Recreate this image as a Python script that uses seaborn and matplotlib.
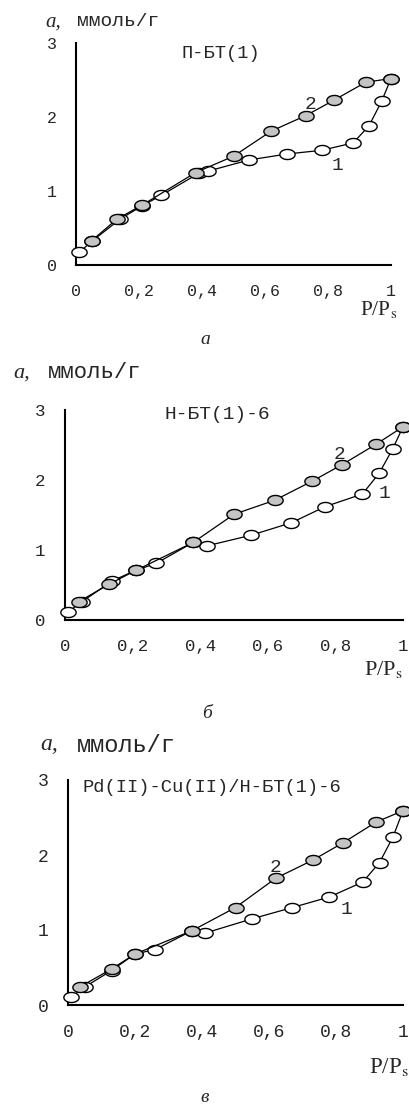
import numpy as np
import matplotlib
matplotlib.use("Agg")
import matplotlib.pyplot as plt
from matplotlib.path import Path
import seaborn as sns

# --- data ---
# panel a: П-БТ(1)
a_ads_x = [0.01, 0.05, 0.14, 0.21, 0.27, 0.39, 0.42, 0.55, 0.67, 0.78, 0.88, 0.93, 0.97, 1.00]
a_ads_y = [0.17, 0.32, 0.62, 0.80, 0.94, 1.24, 1.27, 1.42, 1.50, 1.55, 1.65, 1.88, 2.21, 2.52]
a_des_x = [1.00, 0.92, 0.82, 0.73, 0.62, 0.50, 0.38, 0.21, 0.13, 0.05]
a_des_y = [2.52, 2.47, 2.23, 2.02, 1.81, 1.47, 1.25, 0.81, 0.62, 0.33]

# panel б: Н-БТ(1)-6
b_ads_x = [0.01, 0.05, 0.14, 0.21, 0.27, 0.38, 0.42, 0.55, 0.67, 0.77, 0.88, 0.93, 0.97, 1.00]
b_ads_y = [0.12, 0.26, 0.56, 0.71, 0.81, 1.11, 1.06, 1.21, 1.39, 1.62, 1.80, 2.10, 2.45, 2.76]
b_des_x = [1.00, 0.92, 0.82, 0.73, 0.62, 0.50, 0.38, 0.21, 0.13, 0.04]
b_des_y = [2.76, 2.51, 2.22, 1.98, 1.71, 1.51, 1.11, 0.71, 0.51, 0.26]

# panel в: Pd(II)-Cu(II)/Н-БТ(1)-6
c_ads_x = [0.01, 0.05, 0.13, 0.20, 0.26, 0.37, 0.41, 0.55, 0.67, 0.78, 0.88, 0.93, 0.97, 1.00]
c_ads_y = [0.11, 0.24, 0.46, 0.68, 0.74, 0.99, 0.96, 1.15, 1.30, 1.44, 1.64, 1.90, 2.24, 2.59]
c_des_x = [1.00, 0.92, 0.82, 0.73, 0.62, 0.50, 0.37, 0.20, 0.13, 0.035]
c_des_y = [2.59, 2.44, 2.16, 1.93, 1.69, 1.30, 0.99, 0.68, 0.48, 0.24]

titles = ["П-БТ(1)", "Н-БТ(1)-6", "Pd(II)-Cu(II)/Н-БТ(1)-6"]
captions = ["а", "б", "в"]
x_ticks = [0, 0.2, 0.4, 0.6, 0.8, 1.0]
x_tick_labels = ["0", "0,2", "0,4", "0,6", "0,8", "1"]
y_ticks = [0, 1, 2, 3]
y_tick_labels = ["0", "1", "2", "3"]

sns.set_style("white")
plt.rcParams["font.family"] = ["Liberation Serif", "DejaVu Serif"]
plt.rcParams["mathtext.fontset"] = "stix"
MONO = ["Liberation Mono", "DejaVu Sans Mono"]

W, H = 409, 1109
fig = plt.figure(figsize=(W / 100, H / 100), dpi=100)

# flattened rounded marker, wider than tall
t = np.linspace(0, 2 * np.pi, 40)
ell = Path(np.column_stack([np.cos(t), 0.66 * np.sin(t)]), closed=True)

# per panel layout in pixels: left, right, top(y=3), bottom(y=0)
boxes = [(76, 391, 43, 265), (65, 403, 410, 620), (68, 403, 780, 1005)]
tick_fs = [12, 12.5, 13]
lab_a = [(45, 22, 15), (13, 373, 16), (40, 745, 17)]
lab_unit = [(77, 22, 14), (48, 373, 16), (77, 745, 17)]
xlab = [(397, 310, 15.5), (403, 670, 16), (409, 1067, 16.5)]
cap = [(205, 340), (207, 713), (205, 1098)]
title_pos = [(0.46, 2.86), (0.45, 2.93), (0.43, 2.9)]
title_fs = [13.5, 14, 13.5]
num_pos = [((0.83, 1.35), (0.745, 2.17)),
           ((0.946, 1.80), (0.813, 2.36)),
           ((0.83, 1.28), (0.62, 1.84))]

series = [(a_ads_x, a_ads_y, a_des_x, a_des_y),
          (b_ads_x, b_ads_y, b_des_x, b_des_y),
          (c_ads_x, c_ads_y, c_des_x, c_des_y)]

for i, (l, r, tp, bt) in enumerate(boxes):
    ax = fig.add_axes([l / W, 1 - bt / H, (r - l) / W, (bt - tp) / H])
    ax.set_facecolor("none")
    ads_x, ads_y, des_x, des_y = series[i]
    # curve 1 (open markers), then curve 2 (grey markers) on top
    sns.lineplot(x=ads_x, y=ads_y, sort=False, ax=ax, color="black", lw=0.9,
                 marker=ell, markersize=11, markerfacecolor="white",
                 markeredgecolor="black", markeredgewidth=1.0, clip_on=False, zorder=3)
    sns.lineplot(x=des_x, y=des_y, sort=False, ax=ax, color="black", lw=0.9,
                 marker=ell, markersize=11, markerfacecolor="#c4c4c4",
                 markeredgecolor="black", markeredgewidth=1.0, clip_on=False, zorder=4)
    ax.set_xlim(0, 1)
    ax.set_ylim(0, 3)
    ax.set_xticks(x_ticks)
    ax.set_xticklabels(x_tick_labels)
    ax.set_yticks(y_ticks)
    ax.set_yticklabels(y_tick_labels)
    for s in ["top", "right"]:
        ax.spines[s].set_visible(False)
    for s in ["left", "bottom"]:
        ax.spines[s].set_linewidth(1.5)
        ax.spines[s].set_color("black")
    ax.tick_params(direction="in", length=5, width=1.2, color="black")
    ax.tick_params(axis="x", pad=14)
    ax.tick_params(axis="y", pad=14)
    for lbl in ax.get_xticklabels() + ax.get_yticklabels():
        lbl.set_fontfamily(MONO)
        lbl.set_fontsize(tick_fs[i])
    ax.set_xlabel("")
    ax.set_ylabel("")

    tx, ty = title_pos[i]
    ax.text(tx, ty, titles[i], ha="center", va="center", fontsize=title_fs[i], family=MONO)
    (n1x, n1y), (n2x, n2y) = num_pos[i]
    ax.text(n1x, n1y, "1", ha="center", va="center", fontsize=14, family=MONO)
    ax.text(n2x, n2y, "2", ha="center", va="center", fontsize=14, family=MONO)

    ax_, ay_, afs = lab_a[i]
    fig.text(ax_ / W, 1 - ay_ / H, "а,", ha="left", va="center",
             fontsize=afs, style="italic")
    ux, uy, ufs = lab_unit[i]
    fig.text(ux / W, 1 - uy / H, "ммоль/г", ha="left", va="center", fontsize=ufs,
             family=MONO)
    xx, xy, xfs = xlab[i]
    fig.text(xx / W, 1 - xy / H, r"P/P$_{\mathrm{s}}$", ha="right", va="center", fontsize=xfs)
    cx, cy = cap[i]
    fig.text(cx / W, 1 - cy / H, captions[i], ha="center", va="center",
             fontsize=14, style="italic")

fig.savefig("out.png", dpi=100, facecolor="white")
